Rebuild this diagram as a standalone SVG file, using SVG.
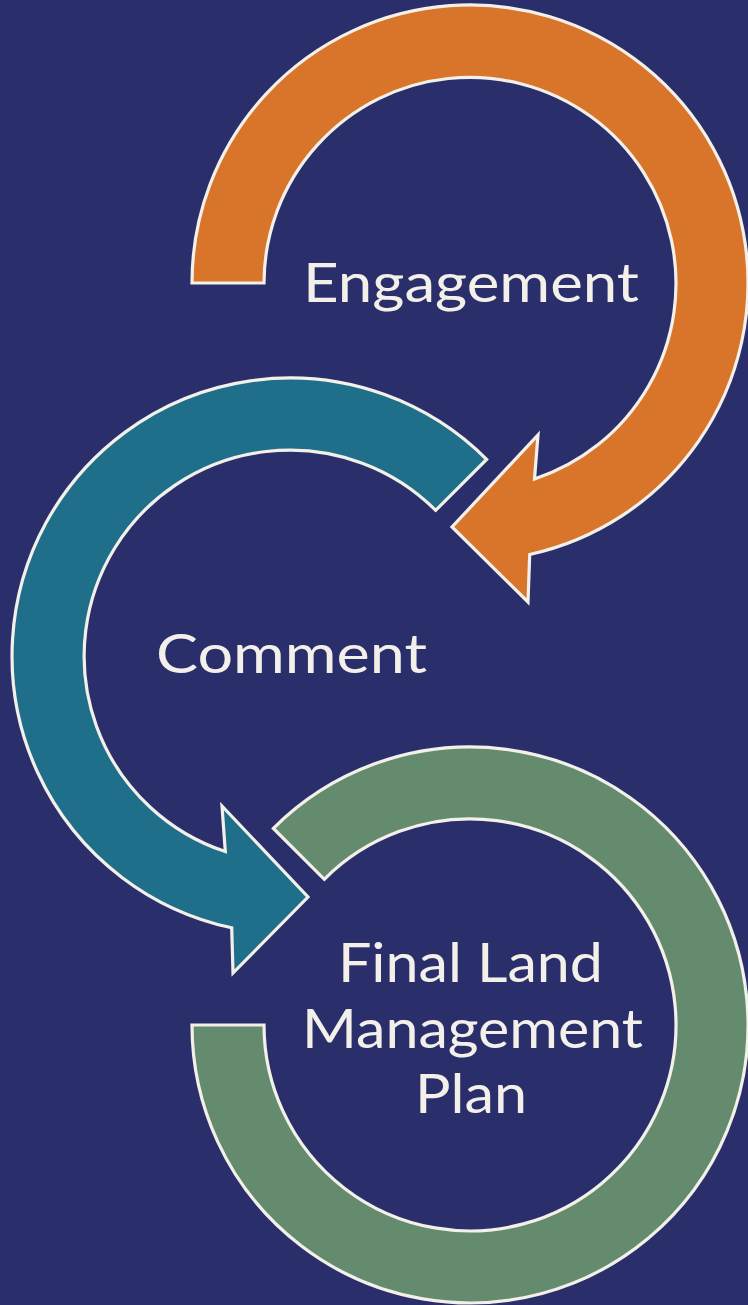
<svg xmlns="http://www.w3.org/2000/svg" width="748" height="1305" viewBox="0 0 748 1305">
<style>
.arc{stroke:#f3f0ea;stroke-width:3.2;stroke-linejoin:miter}
.lbl{font-family:Lato,"Noto Sans",sans-serif;font-size:54px;fill:#f3f0ea;text-anchor:middle}
</style>
<rect width="748" height="1305" fill="#2a2e6b"/>
<g id="connectors"></g>
<g id="engagement">
<path class="arc" fill="#d8752a" d="M192,283 A278,278 0 1 1 529.7,554.5 L528,602 L452,527 L538,435 L534.5,479 A206,206 0 1 0 264,283 Z"/>
<text class="lbl" x="471" y="302" textLength="336" lengthAdjust="spacingAndGlyphs">Engagement</text>
</g>
<g id="comment">
<path class="arc" fill="#1f6f8b" d="M486.6,459.4 A278,278 0 1 0 231.7,927.8 L233,973 L308,897 L222,806 L225.3,851.6 A206,206 0 1 1 435.7,510.3 Z"/>
<text class="lbl" x="291.5" y="673" textLength="271" lengthAdjust="spacingAndGlyphs">Comment</text>
</g>
<g id="final">
<path class="arc" fill="#658b6e" d="M273.4,828.4 A278,278 0 1 1 192,1025 L264,1025 A206,206 0 1 0 324.3,879.3 Z"/>
<text class="lbl" x="470.5" y="982" textLength="265" lengthAdjust="spacingAndGlyphs">Final Land</text>
<text class="lbl" x="472.5" y="1048" textLength="341" lengthAdjust="spacingAndGlyphs">Management</text>
<text class="lbl" x="471" y="1113" textLength="112" lengthAdjust="spacingAndGlyphs">Plan</text>
</g>
</svg>
